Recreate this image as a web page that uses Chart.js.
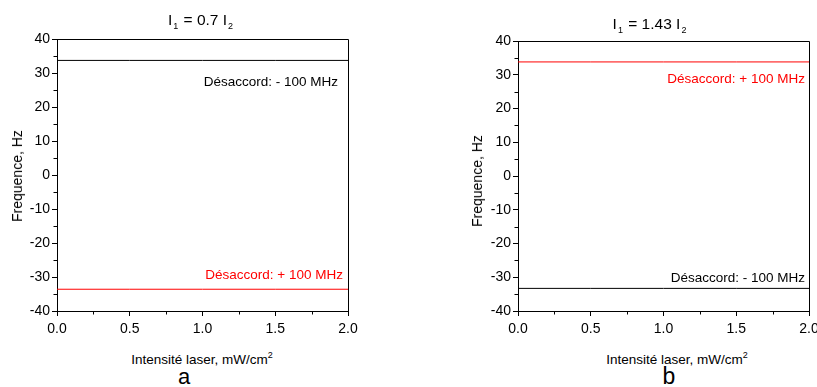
<!DOCTYPE html>
<html><head><meta charset="utf-8">
<script src="https://cdn.jsdelivr.net/npm/chart.js@4"></script>
<style>
html,body{margin:0;padding:0;background:#fff}
body{width:817px;height:387px;overflow:hidden;position:relative;font-family:"Liberation Sans",Arial,sans-serif;color:#000}
canvas{position:absolute;top:0}
.t{position:absolute;white-space:nowrap;line-height:1;transform:translateX(-50%)}
.t sub{font-size:9px;vertical-align:-4px;margin:0 1px}
.t sup{font-size:9px;vertical-align:6px}
.yt{position:absolute;white-space:nowrap;line-height:1;font-size:14px;transform:translate(-50%,-50%) rotate(-90deg)}
</style></head>
<body>
<canvas id="ca" width="365" height="340" style="left:0;width:365px;height:340px"></canvas>
<canvas id="cb" width="380" height="340" style="left:460px;width:380px;height:340px"></canvas>

<div class="t" style="left:201px;top:12px;font-size:15.5px">I<sub>1</sub> = 0.7 I<sub>2</sub></div>
<div class="t" style="left:650px;top:16px;font-size:15.5px">I<sub>1</sub> = 1.43 I<sub>2</sub></div>
<div class="t" style="left:202px;top:351px;font-size:13.5px">Intensité laser, mW/cm<sup>2</sup></div>
<div class="t" style="left:677px;top:351px;font-size:13.5px">Intensité laser, mW/cm<sup>2</sup></div>
<div class="yt" style="left:17px;top:176px">Frequence, Hz</div>
<div class="yt" style="left:477px;top:181px">Frequence, Hz</div>
<div class="t" style="left:184px;top:366px;font-size:22px">a</div>
<div class="t" style="left:669px;top:365px;font-size:23px">b</div>

<script>
// ---- data ----
const intensity = [0, 0.5, 1.0, 1.5, 2.0];            // mW/cm2
const freqA_minus100 = [33.7, 33.7, 33.7, 33.7, 33.7]; // Hz, panel a, detuning -100 MHz
const freqA_plus100  = [-33.6, -33.6, -33.6, -33.6, -33.6];
const freqB_plus100  = [33.8, 33.8, 33.8, 33.8, 33.8]; // Hz, panel b
const freqB_minus100 = [-33.3, -33.3, -33.3, -33.3, -33.3];
const labelMinus = 'Désaccord: - 100 MHz';
const labelPlus  = 'Désaccord: + 100 MHz';
const xMajor = [0, 0.5, 1.0, 1.5, 2.0];
const xMinor = [0.25, 0.75, 1.25, 1.75];
const yMajor = [-40, -30, -20, -10, 0, 10, 20, 30, 40];
const yMinor = [-35, -25, -15, -5, 5, 15, 25, 35];

const BLACK = '#000000', RED = '#ff0000';
const FONT = '"Liberation Sans", Arial, sans-serif';

const framePlugin = {
  id: 'frame',
  afterDraw(chart, args, opts) {
    const {ctx, chartArea: a, scales: {x, y}} = chart;
    ctx.save();
    ctx.strokeStyle = '#000'; ctx.lineWidth = 1;
    ctx.beginPath();
    ctx.moveTo(a.left, a.top + 0.5); ctx.lineTo(a.right + 0.5, a.top + 0.5);
    ctx.lineTo(a.right + 0.5, a.bottom + 0.5);
    // minor ticks
    xMinor.forEach(v => { const px = Math.round(x.getPixelForValue(v)) + 0.5; ctx.moveTo(px, a.bottom); ctx.lineTo(px, a.bottom + 3.5); });
    yMinor.forEach(v => { const py = Math.round(y.getPixelForValue(v)) + 0.5; ctx.moveTo(a.left, py); ctx.lineTo(a.left - 3.5, py); });
    ctx.stroke();
    ctx.font = '13.5px ' + FONT;
    ctx.textAlign = 'right'; ctx.textBaseline = 'alphabetic';
    (opts.notes || []).forEach(n => {
      ctx.fillStyle = n.color;
      ctx.fillText(n.text, a.right - n.dx, y.getPixelForValue(n.y));
    });
    ctx.restore();
  }
};

function makeChart(id, series, padTop, padRight, yWidth, notes) {
  return new Chart(document.getElementById(id), {
    type: 'line',
    data: {
      labels: intensity,
      datasets: series.map(s => ({
        data: intensity.map((xv, i) => ({x: xv, y: s.values[i]})),
        borderColor: s.color, borderWidth: 1, pointRadius: 0, tension: 0, fill: false
      }))
    },
    options: {
      responsive: false, animation: false, devicePixelRatio: 1,
      layout: {padding: {left: 0, top: padTop, right: padRight, bottom: 0}},
      plugins: {legend: {display: false}, tooltip: {enabled: false}, frame: {notes}},
      scales: {
        x: {
          type: 'linear', min: 0, max: 2,
          afterFit: s => { s.height = 29; },
          afterBuildTicks: s => { s.ticks = xMajor.map(v => ({value: v})); },
          ticks: {color: '#000', font: {family: FONT, size: 14}, padding: 5, maxRotation: 0, autoSkip: false,
                  callback: v => Number(v).toFixed(1)},
          grid: {drawOnChartArea: false, drawTicks: true, tickLength: 5, color: '#000'},
          border: {display: true, color: '#000', width: 1}
        },
        y: {
          type: 'linear', min: -40, max: 40,
          afterFit: s => { s.width = yWidth; },
          afterBuildTicks: s => { s.ticks = yMajor.map(v => ({value: v})); },
          ticks: {color: '#000', font: {family: FONT, size: 14}, padding: 2, autoSkip: false,
                  callback: v => String(v)},
          grid: {drawOnChartArea: false, drawTicks: true, tickLength: 5, color: '#000'},
          border: {display: true, color: '#000', width: 1}
        }
      }
    },
    plugins: [framePlugin]
  });
}

makeChart('ca', [
  {values: freqA_minus100, color: BLACK},
  {values: freqA_plus100, color: RED}
], 39, 17, 57, [
  {text: labelMinus, color: BLACK, y: 26.2, dx: 10},
  {text: labelPlus, color: RED, y: -30.6, dx: 5}
]);

makeChart('cb', [
  {values: freqB_plus100, color: RED},
  {values: freqB_minus100, color: BLACK}
], 41, 31, 58, [
  {text: labelPlus, color: RED, y: 27.7, dx: 4},
  {text: labelMinus, color: BLACK, y: -31.4, dx: 4}
]);
</script>
</body></html>
